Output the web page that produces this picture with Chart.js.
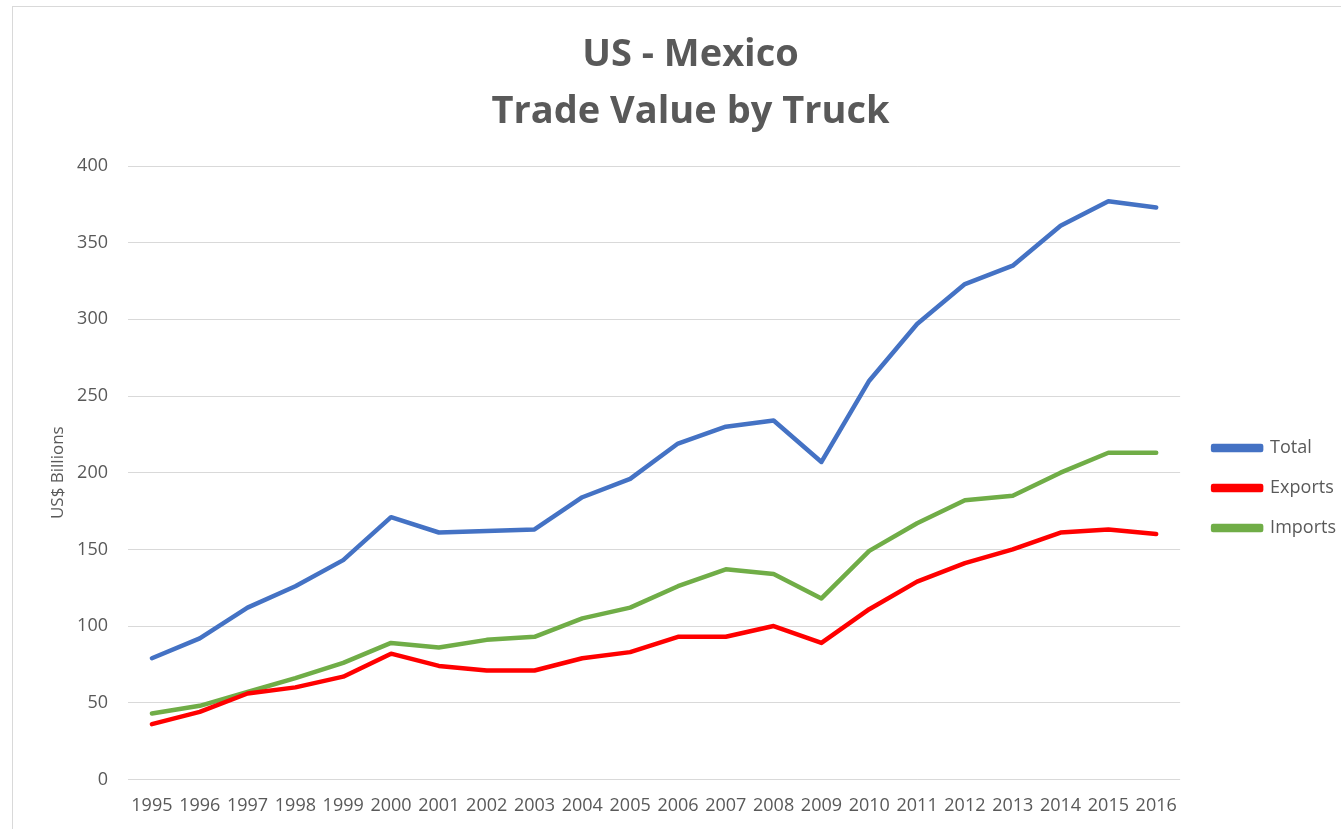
<!DOCTYPE html>
<html>
<head>
<meta charset="utf-8">
<script src="https://cdn.jsdelivr.net/npm/chart.js@4.4.1/dist/chart.umd.min.js"></script>
<style>
    html, body { margin: 0; padding: 0; background: #fff; overflow: hidden; }
    #wrap { position: relative; width: 1341px; height: 829px; }
    #frame { position: absolute; left: 12px; top: 6px; width: 1340px; height: 840px; border: 1px solid #d9d9d9; pointer-events: none; }
    canvas { position: absolute; left: 0; top: 0; }
</style>
</head>
<body>
<div id="wrap">
    <div id="frame"></div>
    <canvas id="chart" width="1341" height="829"></canvas>
</div>
<script>
    "use strict";

    // Data
    var years = ["1995", "1996", "1997", "1998", "1999", "2000", "2001", "2002", "2003", "2004", "2005",
                 "2006", "2007", "2008", "2009", "2010", "2011", "2012", "2013", "2014", "2015", "2016"];
    var total = [79, 92, 112, 126, 143, 171, 161, 162, 163, 184, 196,
                 219, 230, 234, 207, 260, 297, 323, 335, 361, 377, 373];
    var exportsUS = [36, 44, 56, 60, 67, 82, 74, 71, 71, 79, 83,
                     93, 93, 100, 89, 111, 129, 141, 150, 161, 163, 160];
    var importsUS = [43, 48, 57, 66, 76, 89, 86, 91, 93, 105, 112,
                     126, 137, 134, 118, 149, 167, 182, 185, 200, 213, 213];

    var grey = "#595959";
    Chart.defaults.font.family = "'Open Sans', 'Noto Sans', sans-serif";
    Chart.defaults.color = grey;

    function series(label, data, color) {
        return {
            label: label,
            data: data,
            borderColor: color,
            backgroundColor: color,
            borderWidth: 4.5,
            pointRadius: 0,
            tension: 0,
            borderCapStyle: "round",
            borderJoinStyle: "round"
        };
    }

    // Legend sits lower and a bit further right than Chart.js puts it
    var legendShift = {
        id: "legendShift",
        afterLayout: function (chart) {
            var lg = chart.legend;
            lg.left += 11;
            lg.right += 11;
            lg.top += 417;
            lg.bottom += 417;
        }
    };

    var ctx = document.getElementById("chart").getContext("2d");
    var myChart = new Chart(ctx, {
        type: "line",
        data: {
            labels: years,
            datasets: [
                series("Total", total, "#4472C4"),
                series("Exports", exportsUS, "#FF0000"),
                series("Imports", importsUS, "#70AD47")
            ]
        },
        options: {
            responsive: false,
            animation: false,
            layout: {
                padding: { left: 46, right: 6, top: 0, bottom: 4 }
            },
            plugins: {
                title: {
                    display: true,
                    text: ["US - Mexico", "Trade Value by Truck"],
                    color: grey,
                    font: { size: 38, weight: "bold", lineHeight: 1.5 },
                    padding: { top: 27, bottom: 25 }
                },
                legend: {
                    position: "right",
                    align: "start",
                    labels: {
                        boxWidth: 48,
                        boxHeight: 4,
                        padding: 22,
                        color: grey,
                        font: { size: 18 }
                    }
                },
                tooltip: { enabled: false }
            },
            scales: {
                x: {
                    offset: true,
                    grid: { display: false },
                    border: { display: false },
                    ticks: {
                        color: grey,
                        font: { size: 18 },
                        maxRotation: 0,
                        autoSkip: false,
                        padding: 8
                    }
                },
                y: {
                    min: 0,
                    max: 400,
                    afterFit: function (scale) {
                        scale.width = 82;
                    },
                    grid: { color: "#d9d9d9", lineWidth: 1, drawTicks: false },
                    border: { display: false },
                    ticks: {
                        stepSize: 50,
                        color: grey,
                        font: { size: 18 },
                        padding: 20
                    },
                    title: {
                        display: true,
                        text: "US$ Billions",
                        color: grey,
                        font: { size: 17 },
                        padding: { top: 2, bottom: 0 }
                    }
                }
            }
        },
        plugins: [legendShift]
    });
</script>
</body>
</html>
